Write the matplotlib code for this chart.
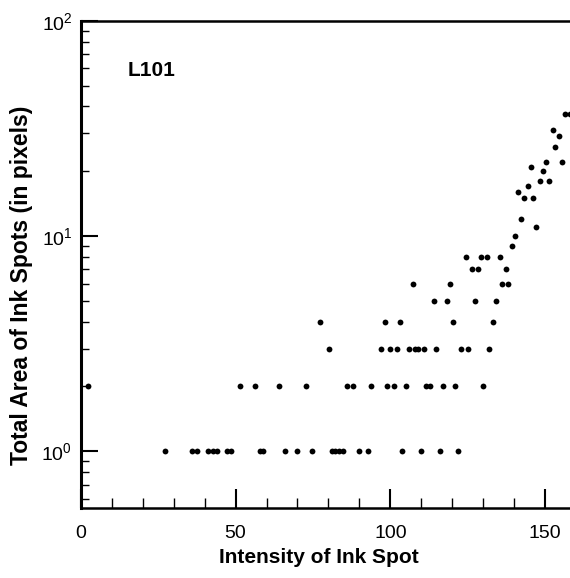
import matplotlib
matplotlib.use("Agg")
import matplotlib.pyplot as plt
from matplotlib.ticker import MultipleLocator, LogLocator, NullFormatter

plt.rcParams['font.family'] = ['Liberation Sans', 'DejaVu Sans']
plt.rcParams['mathtext.fontset'] = 'custom'
plt.rcParams['mathtext.rm'] = 'Liberation Sans'
plt.rcParams['mathtext.it'] = 'Liberation Sans'
plt.rcParams['mathtext.bf'] = 'Liberation Sans:bold'

# Data: area level -> intensities of spots at that area
area_levels = [1, 2, 3, 4, 5, 6, 7, 8, 9, 10, 11, 12, 15, 16, 17, 18, 20, 21, 22, 26, 29, 31, 37]
intensities = [
    [27.2, 36.1, 37.4, 41.2, 42.6, 44.1, 47.1, 48.4, 57.8, 58.9, 66.0, 70.0, 74.7,
     81.0, 82.0, 83.4, 84.7, 89.9, 92.9, 103.9, 109.8, 115.9, 121.8],
    [2.5, 51.5, 56.2, 64.1, 72.9, 86.0, 87.9, 93.9, 98.9, 101.1, 104.9, 111.6, 112.9,
     117.0, 120.8, 129.8],
    [80.2, 97.1, 100.0, 102.1, 106.0, 107.8, 108.9, 110.8, 114.8, 122.9, 125.0, 132.0],
    [77.2, 98.2, 103.0, 120.2, 133.1],
    [114.1, 118.3, 127.2, 134.2],
    [107.3, 119.4, 136.0, 137.9],
    [126.3, 128.3, 137.2],
    [124.3, 129.4, 131.2, 135.3],
    [139.2],
    [140.2],
    [147.1],
    [142.3],
    [143.3, 146.2],
    [141.3],
    [144.4],
    [148.2, 151.2],
    [149.2],
    [145.5],
    [150.3, 155.3],
    [153.3],
    [154.4],
    [152.5],
    [156.3, 157.9],
]

xs, ys = [], []
for lvl, row in zip(area_levels, intensities):
    for v in row:
        xs.append(v)
        ys.append(lvl)

W, H = 570, 578
fig = plt.figure(figsize=(W / 100, H / 100), dpi=100)
left, right, top, bottom = 80.7, 570, 20.7, 508
ax = fig.add_axes([left / W, (H - bottom) / H, (right - left) / W, (bottom - top) / H])

ax.plot(xs, ys, 'o', color='black', markersize=4.2, markeredgewidth=0, clip_on=False)

ax.set_yscale('log')
ax.set_xlim(0, 158)
ax.set_ylim(0.545, 100)

ax.xaxis.set_major_locator(MultipleLocator(50))
ax.xaxis.set_minor_locator(MultipleLocator(10))
ax.yaxis.set_major_locator(LogLocator(base=10, numticks=10))
ax.yaxis.set_minor_locator(LogLocator(base=10, subs=range(2, 10), numticks=20))
ax.yaxis.set_minor_formatter(NullFormatter())

ax.tick_params(axis='x', which='major', direction='in', length=13.5, width=1.5,
               labelsize=14, pad=12, top=False)
ax.tick_params(axis='x', which='minor', direction='in', length=7, width=1.0, top=False)
ax.tick_params(axis='y', which='major', direction='in', length=12.5, width=1.5,
               labelsize=14, pad=6, right=False)
ax.tick_params(axis='y', which='minor', direction='in', length=6, width=1.0, right=False)

ax.spines['right'].set_visible(False)
ax.spines['left'].set_linewidth(2.2)
ax.spines['bottom'].set_linewidth(1.8)
ax.spines['top'].set_linewidth(1.8)

ax.set_xlabel('Intensity of Ink Spot', fontsize=15, fontweight='bold')
ax.xaxis.set_label_coords(0.487, -0.101)
ax.xaxis.label.set_va('center')
ax.set_ylabel('Total Area of Ink Spots (in pixels)', fontsize=16.5, fontweight='bold')
ax.yaxis.set_label_coords(-0.12, 0.458)
ax.yaxis.label.set_va('center')

ax.text(15.3, 58.6, 'L101', fontsize=15, fontweight='bold', ha='left', va='center')

fig.savefig('out.png', dpi=100)
